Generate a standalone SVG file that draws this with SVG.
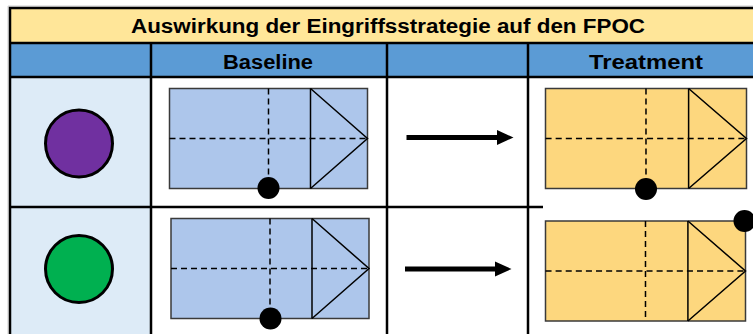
<svg xmlns="http://www.w3.org/2000/svg" width="753" height="334" viewBox="0 0 753 334">
  <style>
    .hdr { font-family: "Liberation Sans", Arial, sans-serif; font-weight: bold; font-size: 20px; fill: #000; }
    .grid { stroke: #000; stroke-width: 2.5; fill: none; }
    .box-base { fill: #ADC6EB; stroke: #3a3a3a; stroke-width: 1.5; }
    .box-treat { fill: #FDD77E; stroke: #3a3a3a; stroke-width: 1.5; }
    .dash { stroke: #000; stroke-width: 1.5; stroke-dasharray: 6 4; fill: none; }
    .solid { stroke: #000; stroke-width: 1.5; fill: none; }
    .dot { fill: #000; }
    .shaft { stroke: #000; stroke-width: 5; fill: none; }
  </style>
  <defs>
    <marker id="head" markerWidth="4" markerHeight="4" refX="0" refY="2" orient="auto" markerUnits="strokeWidth">
      <path d="M0,0.5 L3.3,2 L0,3.5 Z" fill="#000"/>
    </marker>
    <!-- room plan: rectangle with crossing dashed axes and a triangular end -->
    <g id="plan-lines">
      <line class="dash" x1="0" y1="50" x2="198" y2="50"/>
      <line class="dash" x1="99" y1="0" x2="99" y2="100"/>
      <line class="solid" x1="141" y1="0" x2="141" y2="100"/>
      <polyline class="solid" points="141,0 198,50 141,100"/>
    </g>
  </defs>

  <!-- table backgrounds -->
  <rect x="10" y="8" width="743" height="35" fill="#FFE699"/>
  <rect x="10" y="43" width="743" height="34" fill="#5B9BD5"/>
  <rect x="10" y="77" width="141" height="257" fill="#DDEBF7"/>
  <rect x="151" y="77" width="602" height="257" fill="#FFFFFF"/>

  <!-- faint outer shadow -->
  <path d="M8,334 V6 H753" stroke="#cfcfcf" stroke-width="1" fill="none"/>

  <!-- table grid -->
  <g id="grid">
    <path class="grid" d="M10,334 V8 H753"/>
    <line class="grid" x1="10" y1="43" x2="753" y2="43"/>
    <line class="grid" x1="10" y1="77" x2="753" y2="77"/>
    <line class="grid" x1="10" y1="207" x2="543" y2="207"/>
    <line class="grid" x1="151" y1="43" x2="151" y2="334"/>
    <line class="grid" x1="387" y1="43" x2="387" y2="334"/>
    <line class="grid" x1="528" y1="43" x2="528" y2="334"/>
  </g>

  <!-- header texts -->
  <g id="title">
    <text class="hdr" x="131" y="33" textLength="514" lengthAdjust="spacingAndGlyphs">Auswirkung der Eingriffsstrategie auf den FPOC</text>
  </g>
  <g id="col-baseline">
    <text class="hdr" x="223" y="69" textLength="90" lengthAdjust="spacingAndGlyphs">Baseline</text>
  </g>
  <g id="col-treatment">
    <text class="hdr" x="589" y="69" textLength="114" lengthAdjust="spacingAndGlyphs">Treatment</text>
  </g>

  <!-- row 1 -->
  <g id="marker-purple">
    <circle cx="79" cy="143.5" r="33.5" fill="#7030A0" stroke="#000" stroke-width="3"/>
  </g>
  <g id="baseline-1">
    <rect class="box-base" x="169.5" y="88.5" width="198" height="100"/>
    <use href="#plan-lines" transform="translate(169.5,88.5)"/>
    <circle class="dot" cx="268.5" cy="188" r="11"/>
  </g>
  <g id="treatment-1">
    <rect class="box-treat" x="545.5" y="88.5" width="201" height="100"/>
    <use href="#plan-lines" transform="translate(545.5,88.5) scale(1.015,1)"/>
    <circle class="dot" cx="646" cy="189" r="11"/>
  </g>

  <!-- row 2 -->
  <g id="marker-green">
    <circle cx="79" cy="269" r="33.5" fill="#00B050" stroke="#000" stroke-width="3"/>
  </g>
  <g id="baseline-2">
    <rect class="box-base" x="171" y="218.5" width="198" height="100"/>
    <use href="#plan-lines" transform="translate(171,218.5)"/>
    <circle class="dot" cx="270.5" cy="318.5" r="11"/>
  </g>
  <g id="treatment-2">
    <rect class="box-treat" x="545.5" y="221" width="200" height="100"/>
    <use href="#plan-lines" transform="translate(545.5,221) scale(1.01,1)"/>
    <circle class="dot" cx="744.5" cy="221" r="11"/>
  </g>

  <!-- transitions from baseline to treatment -->
  <g id="connectors">
    <line class="shaft" x1="406.5" y1="137.5" x2="497" y2="137.5" marker-end="url(#head)"/>
    <line class="shaft" x1="405" y1="269" x2="495" y2="269" marker-end="url(#head)"/>
  </g>
</svg>
